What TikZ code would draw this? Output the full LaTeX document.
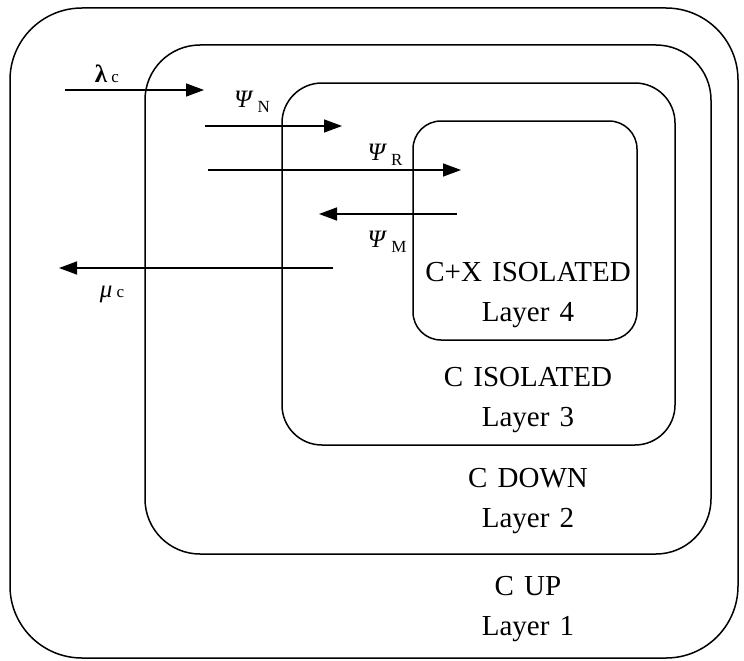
\documentclass[tikz,border=0pt]{standalone}
\usepackage{fontspec}
\setmainfont[WordSpace=1.4]{Liberation Serif}
\usetikzlibrary{arrows.meta,positioning}
\tikzset{
  layer/.style={draw, line width=1.5pt, inner sep=0pt},
  flow/.style={-{Triangle[length=18pt,width=13pt]}, line width=1.5pt},
  lbl/.style={font=\fontsize{25}{28}\selectfont, inner sep=0pt},
  laytxt/.style={font=\fontsize{29}{40}\selectfont, align=center, inner sep=0pt},
}
\newcommand{\gsub}[3]{#1\,\raisebox{#3}{\fontsize{17}{18}\selectfont #2}}

\begin{document}
\begin{tikzpicture}[x=1pt,y=-1pt]
  \useasboundingbox (0,0) rectangle (744,661);
  % nested layers
  \node[layer, rounded corners=72pt, minimum width=728pt, minimum height=650pt] (l1) at (374,333) {};
  \node[layer, rounded corners=55pt, minimum width=566pt, minimum height=509pt] (l2) at (428,299.5) {};
  \node[layer, rounded corners=40pt, minimum width=393pt, minimum height=362pt] (l3) at (478.5,264) {};
  \node[layer, rounded corners=28pt, minimum width=224pt, minimum height=219pt] (l4) at (525,230.5) {};
  % layer captions
  \node[laytxt] (t4) at (528,295) {C+X ISOLATED\\Layer 4};
  \node[laytxt] (t3) at (528,400) {C ISOLATED\\Layer 3};
  \node[laytxt] (t2) at (528,501) {C DOWN\\Layer 2};
  \node[laytxt] (t1) at (528,609) {C UP\\Layer 1};
  % flow end points
  \coordinate (lam0) at (65,90);   \coordinate (lam1) at (204,90);
  \coordinate (psn0) at (205,126); \coordinate (psn1) at (342,126);
  \coordinate (psr0) at (208,170); \coordinate (psr1) at (461,170);
  \coordinate (psm0) at (457,214); \coordinate (psm1) at (319,214);
  \coordinate (mu0) at (333,268);  \coordinate (mu1) at (59,268);
  \draw[flow] (lam0)--(lam1); \draw[flow] (psn0)--(psn1);
  \draw[flow] (psr0)--(psr1); \draw[flow] (psm0)--(psm1);
  \draw[flow] (mu0)--(mu1);
  % flow labels
  \node[lbl] (lam) at (107,74) {\gsub{\textbf{λ}}{c}{0pt}};
  \node[lbl] (psn) at (252,102) {\gsub{\textit{Ψ}}{N}{-5pt}};
  \node[lbl] (psr) at (385,155) {\gsub{\textit{Ψ}}{R}{-5pt}};
  \node[lbl] (psm) at (387,242) {\gsub{\textit{Ψ}}{M}{-5pt}};
  \node[lbl] (mu) at (112,294) {\gsub{\textit{μ}}{c}{0pt}};
\end{tikzpicture}
\end{document}
